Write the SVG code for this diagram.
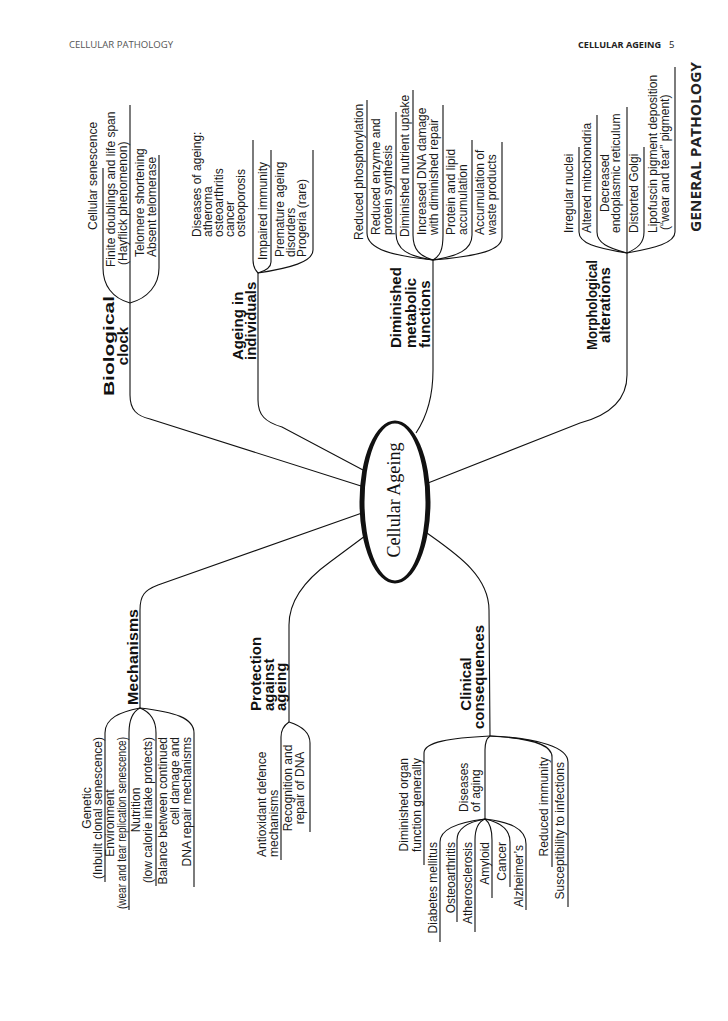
<svg xmlns="http://www.w3.org/2000/svg" width="728" height="1021" viewBox="0 0 728 1021">
<style>
.t{font-family:"Liberation Sans",Arial,Helvetica,sans-serif;font-size:12px;fill:#1a1a1a}
.b{font-family:"Liberation Sans",Arial,Helvetica,sans-serif;font-size:15px;font-weight:bold;fill:#111}
.m{text-anchor:middle}
.e{text-anchor:end}
.ln{fill:none;stroke:#111;stroke-width:1.1}
.hd{font-family:"Open Sans","Liberation Sans",sans-serif;font-size:9.5px;fill:#555}
</style>
<rect width="728" height="1021" fill="#fff"/>
<g id="header">
<text class="hd" x="69" y="48" textLength="104" lengthAdjust="spacingAndGlyphs">CELLULAR PATHOLOGY</text>
<text class="hd" x="578" y="48" font-weight="bold" textLength="83" lengthAdjust="spacingAndGlyphs" style="fill:#222">CELLULAR AGEING</text>
<text class="hd" x="669" y="48" style="fill:#222">5</text>
<text transform="translate(701,232) rotate(-90)" font-family="'Open Sans','Liberation Sans',sans-serif" font-weight="bold" font-size="14" fill="#222" textLength="170" lengthAdjust="spacingAndGlyphs">GENERAL PATHOLOGY</text>
</g>

<g id="connectors">
<path class="ln" d="M130,303 L130,395 C130,410 137,416 150,419 L361,486"/>
<path class="ln" d="M258,273 L258,400 C258,415 265,422 282,427 L363,470"/>
<path class="ln" d="M433,260 L433,370 C433,395 428,415 416,433"/>
<path class="ln" d="M627,253 L627,375 C627,400 610,415 580,423 L428,483"/>
<path class="ln" d="M427,533 C455,553 489,575 489,610 L490,736"/>
<path class="ln" d="M140,708 L140,610 C140,595 145,590 158,585 L362,513"/>
<path class="ln" d="M289,722 L289,625 C289,600 305,580 330,562 L365,536"/>
</g>

<g id="centre">
<path d="M359.5,502 a35.5,81.5 0 1,0 71,0 a35.5,81.5 0 1,0 -71,0 Z M364.5,502 a30.5,78.5 0 1,0 61,0 a30.5,78.5 0 1,0 -61,0 Z" fill="#111" fill-rule="evenodd"/>
<text transform="translate(400,500) rotate(-90)" text-anchor="middle" font-family="'Liberation Serif','Times New Roman',serif" font-size="19" fill="#111" textLength="115" lengthAdjust="spacingAndGlyphs">Cellular Ageing</text>
</g>

<g id="biological-clock">
<text class="b m" transform="translate(114,346) rotate(-90)" font-size="15.5" textLength="100" lengthAdjust="spacingAndGlyphs">Biological</text>
<text class="b m" transform="translate(128,346) rotate(-90)" font-size="15.5">clock</text>
<path class="ln" d="M130,303 C112,298 103,285 103,268 L103,168"/>
<path class="ln" d="M130,303 L130,105"/>
<path class="ln" d="M130,303 C148,298 159,285 159,268 L159,155"/>
<text class="t" transform="translate(97,230) rotate(-90)">Cellular senescence</text>
<text class="t" transform="translate(115,267) rotate(-90)">Finite doublings and life span</text>
<text class="t" transform="translate(127,265) rotate(-90)">(Hayflick phenomenon)</text>
<text class="t" transform="translate(144,257) rotate(-90)">Telomere shortening</text>
<text class="t" transform="translate(156,257) rotate(-90)">Absent telomerase</text>
</g>

<g id="ageing-in-individuals">
<text class="b" transform="translate(243,360) rotate(-90)">Ageing in</text>
<text class="b" transform="translate(256,360) rotate(-90)">individuals</text>
<path class="ln" d="M258,273 C255,270 253,266 253,260 L253,140"/>
<path class="ln" d="M258,273 C265,271 271,268 271,262 L271,150"/>
<path class="ln" d="M258,273 C290,268 313,262 313,250 L313,150"/>
<text class="t" transform="translate(201,237) rotate(-90)">Diseases of ageing:</text>
<text class="t" transform="translate(212,237) rotate(-90)">atheroma</text>
<text class="t" transform="translate(223,237) rotate(-90)">osteoarthritis</text>
<text class="t" transform="translate(234,237) rotate(-90)">cancer</text>
<text class="t" transform="translate(245,237) rotate(-90)">osteoporosis</text>
<text class="t" transform="translate(267,260) rotate(-90)">Impaired immunity</text>
<text class="t" transform="translate(284,257) rotate(-90)">Premature ageing</text>
<text class="t" transform="translate(295,257) rotate(-90)">disorders</text>
<text class="t" transform="translate(306,257) rotate(-90)">Progeria (rare)</text>
</g>

<g id="diminished-metabolic-functions">
<text class="b" transform="translate(401,348) rotate(-90)">Diminished</text>
<text class="b" transform="translate(416,348) rotate(-90)">metabolic</text>
<text class="b" transform="translate(430,348) rotate(-90)">functions</text>
<path class="ln" d="M433,260 C395,256 367,250 367,233 L367,100"/>
<path class="ln" d="M433,260 C408,256 396,250 396,233 L396,112"/>
<path class="ln" d="M433,260 C420,256 413,250 413,235 L413,90"/>
<path class="ln" d="M433,260 C440,256 443,250 443,235 L443,105"/>
<path class="ln" d="M433,260 C458,256 472,250 472,235 L472,140"/>
<path class="ln" d="M433,260 C480,256 502,250 502,237 L502,142"/>
<text class="t" transform="translate(363,240) rotate(-90)">Reduced phosphorylation</text>
<text class="t" transform="translate(380,235) rotate(-90)">Reduced enzyme and</text>
<text class="t" transform="translate(392,235) rotate(-90)">protein synthesis</text>
<text class="t" transform="translate(409,237) rotate(-90)">Diminished nutrient uptake</text>
<text class="t" transform="translate(426,235) rotate(-90)">Increased DNA damage</text>
<text class="t" transform="translate(438,235) rotate(-90)">with diminished repair</text>
<text class="t" transform="translate(455,235) rotate(-90)">Protein and lipid</text>
<text class="t" transform="translate(467,235) rotate(-90)">accumulation</text>
<text class="t" transform="translate(484,235) rotate(-90)">Accumulation of</text>
<text class="t" transform="translate(496,235) rotate(-90)">waste products</text>
</g>

<g id="morphological-alterations">
<text class="b m" transform="translate(597,305) rotate(-90)" font-size="14" textLength="90" lengthAdjust="spacingAndGlyphs">Morphological</text>
<text class="b m" transform="translate(610,305) rotate(-90)" font-size="14">alterations</text>
<path class="ln" d="M627,253 C595,248 579,243 579,232 L579,147"/>
<path class="ln" d="M627,253 C608,248 597,243 597,232 L597,115"/>
<path class="ln" d="M627,253 L627,107"/>
<path class="ln" d="M627,253 C638,248 644,243 644,232 L644,147"/>
<path class="ln" d="M627,253 C655,248 675,243 675,232 L675,67"/>
<text class="t" transform="translate(573,233) rotate(-90)">Irregular nuclei</text>
<text class="t" transform="translate(591,233) rotate(-90)">Altered mitochondria</text>
<text class="t" transform="translate(609,212) rotate(-90)">Decreased</text>
<text class="t" transform="translate(620,233) rotate(-90)">endoplasmic reticulum</text>
<text class="t" transform="translate(638,233) rotate(-90)">Distorted Golgi</text>
<text class="t" transform="translate(657,233) rotate(-90)">Lipofuscin pigment deposition</text>
<text class="t" transform="translate(669,230) rotate(-90)">(“wear and tear” pigment)</text>
</g>

<g id="mechanisms">
<text class="b" transform="translate(138,705) rotate(-90)" font-size="16" textLength="96" lengthAdjust="spacingAndGlyphs">Mechanisms</text>
<path class="ln" d="M140,708 C120,712 105,718 105,733 L105,882"/>
<path class="ln" d="M140,708 C132,712 129,720 129,733 L129,910"/>
<path class="ln" d="M140,708 C150,712 156,720 156,733 L156,886"/>
<path class="ln" d="M140,708 C175,712 194,718 194,733 L194,887"/>
<text class="t m" transform="translate(91,808) rotate(-90)">Genetic</text>
<text class="t e" transform="translate(102,737) rotate(-90)">(Inbuilt clonal senescence)</text>
<text class="t m" transform="translate(114,823) rotate(-90)">Environment</text>
<text class="t e" transform="translate(126,737) rotate(-90)" textLength="172" lengthAdjust="spacingAndGlyphs">(wear and tear replication senescence)</text>
<text class="t m" transform="translate(140,810) rotate(-90)">Nutrition</text>
<text class="t e" transform="translate(152,737) rotate(-90)">(low calorie intake protects)</text>
<text class="t e" transform="translate(167,737) rotate(-90)">Balance between continued</text>
<text class="t e" transform="translate(179,737) rotate(-90)">cell damage and</text>
<text class="t e" transform="translate(191,737) rotate(-90)">DNA repair mechanisms</text>
</g>

<g id="protection-against-ageing">
<text class="b" transform="translate(261,711) rotate(-90)">Protection</text>
<text class="b" transform="translate(274,711) rotate(-90)">against</text>
<text class="b" transform="translate(286,711) rotate(-90)">ageing</text>
<path class="ln" d="M289,722 C283,726 281,730 281,737 L281,860"/>
<path class="ln" d="M289,722 C305,727 310,735 310,743 L310,832"/>
<text class="t" transform="translate(266,857) rotate(-90)">Antioxidant defence</text>
<text class="t" transform="translate(278,857) rotate(-90)">mechanisms</text>
<text class="t m" transform="translate(292,788) rotate(-90)">Recognition and</text>
<text class="t m" transform="translate(304,788) rotate(-90)">repair of DNA</text>
</g>

<g id="clinical-consequences">
<text class="b m" transform="translate(471,684) rotate(-90)">Clinical</text>
<text class="b m" transform="translate(484,677) rotate(-90)">consequences</text>
<path class="ln" d="M490,736 C450,738 424,742 424,753 L424,865"/>
<path class="ln" d="M490,736 C487,738 485,742 485,750 L485,819"/>
<path class="ln" d="M490,736 C530,738 552,744 552,757 L552,867"/>
<path class="ln" d="M490,736 C540,738 568,748 568,762 L568,907"/>
<text class="t e" transform="translate(408,758) rotate(-90)">Diminished organ</text>
<text class="t e" transform="translate(421,758) rotate(-90)">function generally</text>
<text class="t" transform="translate(468,812) rotate(-90)">Diseases</text>
<text class="t" transform="translate(480,812) rotate(-90)">of aging</text>
<text class="t e" transform="translate(548,757) rotate(-90)">Reduced immunity</text>
<text class="t e" transform="translate(564,762) rotate(-90)">Susceptibility to infections</text>
</g>

<g id="diseases-of-aging">
<path class="ln" d="M485,819 C460,822 440,828 440,842 L440,942"/>
<path class="ln" d="M485,819 C468,822 457,828 457,840 L457,922"/>
<path class="ln" d="M485,819 C478,822 475,828 475,840 L475,932"/>
<path class="ln" d="M485,819 C489,822 492,828 492,840 L492,898"/>
<path class="ln" d="M485,819 C499,822 510,828 510,842 L510,887"/>
<path class="ln" d="M485,819 C509,822 526,828 526,844 L526,910"/>
<text class="t e" transform="translate(437,842) rotate(-90)">Diabetes mellitus</text>
<text class="t e" transform="translate(455,842) rotate(-90)">Osteoarthritis</text>
<text class="t e" transform="translate(472,842) rotate(-90)">Atherosclerosis</text>
<text class="t e" transform="translate(489,842) rotate(-90)">Amyloid</text>
<text class="t e" transform="translate(506,842) rotate(-90)">Cancer</text>
<text class="t e" transform="translate(523,845) rotate(-90)">Alzheimer’s</text>
</g>
</svg>
